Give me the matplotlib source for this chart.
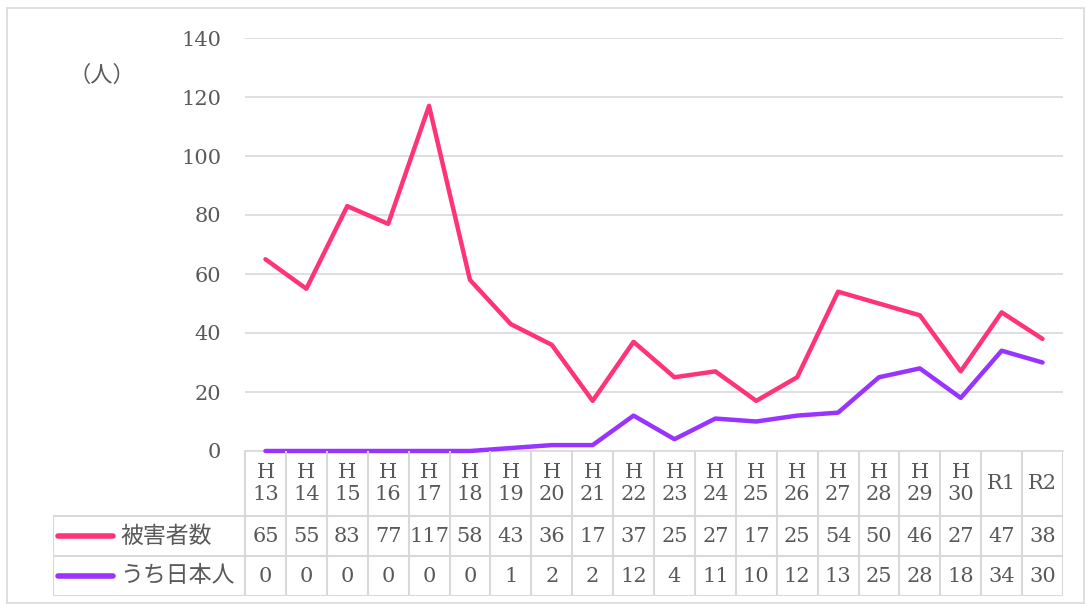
import numpy as np
import matplotlib
matplotlib.use('Agg')
import matplotlib.pyplot as plt

# data
years = ['H\n13', 'H\n14', 'H\n15', 'H\n16', 'H\n17', 'H\n18', 'H\n19', 'H\n20', 'H\n21', 'H\n22',
         'H\n23', 'H\n24', 'H\n25', 'H\n26', 'H\n27', 'H\n28', 'H\n29', 'H\n30', 'R1', 'R2']
victims = [65, 55, 83, 77, 117, 58, 43, 36, 17, 37, 25, 27, 17, 25, 54, 50, 46, 27, 47, 38]
japanese = [0, 0, 0, 0, 0, 0, 1, 2, 2, 12, 4, 11, 10, 12, 13, 25, 28, 18, 34, 30]
series_names = ['被害者数', 'うち日本人']
series_colors = ['#ff3377', '#9933ff']

plt.rcParams['font.family'] = ['DejaVu Serif', 'Noto Sans CJK JP']
cjk = ['Noto Sans CJK JP', 'DejaVu Serif']
W, H = 1086, 604
fig = plt.figure(figsize=(W / 100, H / 100), dpi=100)
txt = '#595959'
grid = '#d9d9d9'
fs = 15

def fx(px):
    return px / W

def fy(py):
    return 1 - py / H

# outer frame
fig.add_artist(plt.Rectangle((fx(7), fy(603)), fx(1084) - fx(7), fy(8) - fy(603),
                             transform=fig.transFigure, fill=False, ec=grid, lw=1.2))

L, R, T, B = 245, 1063, 38, 451
ax = fig.add_axes([fx(L), fy(B), fx(R) - fx(L), fy(T) - fy(B)])
n = len(victims)
x = np.arange(n)
ax.set_xlim(-0.5, n - 0.5)
ax.set_ylim(0, 140)
ax.set_yticks(range(0, 141, 20))
ax.yaxis.grid(True, color=grid, lw=1.2)
ax.set_axisbelow(True)
for s in ['top', 'right', 'left']:
    ax.spines[s].set_visible(False)
ax.spines['bottom'].set_color(grid)
ax.spines['bottom'].set_linewidth(1.2)
ax.tick_params(axis='y', length=0, pad=17, labelsize=fs, labelcolor=txt)
ax.tick_params(axis='x', length=0, labelbottom=False)
ax.plot(x, victims, color=series_colors[0], lw=3.2, solid_capstyle='round', clip_on=False, zorder=3)
ax.plot(x, japanese, color=series_colors[1], lw=3.2, solid_capstyle='round', clip_on=False, zorder=3)
fig.text(fx(102), fy(75), '（人）', ha='center', va='center', fontsize=16, color=txt, family=cjk)

# data table
col = (R - L) / n
TL, TB = 53, 596
tab = fig.add_axes([fx(TL), fy(TB), fx(R) - fx(TL), fy(B) - fy(TB)])
tab.set_xlim(-0.5 - (L - TL) / col, n - 0.5)
tab.set_ylim(TB, B)
tab.axis('off')
rows = [516, 556, 596]
for k in range(n + 1):
    tab.plot([k - 0.5, k - 0.5], [B, TB], color=grid, lw=1.5)
xl = -0.5 - (L - TL) / col
for r in rows:
    tab.plot([xl, n - 0.5], [r, r], color=grid, lw=1.5)
tab.plot([xl, xl], [rows[0], TB], color=grid, lw=1.5)
for i, lab in enumerate(years):
    tab.text(x[i], (B + rows[0]) / 2, lab, ha='center', va='center', fontsize=fs,
             color=txt, linespacing=1.15)
    tab.text(x[i], (rows[0] + rows[1]) / 2, str(victims[i]), ha='center', va='center',
             fontsize=fs, color=txt)
    tab.text(x[i], (rows[1] + rows[2]) / 2, str(japanese[i]), ha='center', va='center',
             fontsize=fs, color=txt)
for j, (name, c) in enumerate(zip(series_names, series_colors)):
    yc = (rows[j] + rows[j + 1]) / 2
    x0 = xl + 5 / col
    tab.plot([x0, x0 + 55 / col], [yc, yc], color=c, lw=4, solid_capstyle='round')
    tab.text(x0 + 62 / col, yc, name, ha='left', va='center', fontsize=16.5, color=txt,
             family=cjk)

fig.savefig('out.png', dpi=100)
